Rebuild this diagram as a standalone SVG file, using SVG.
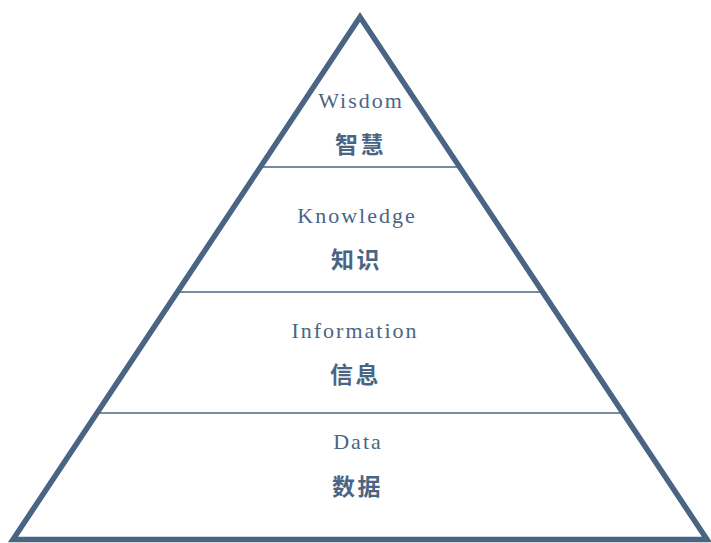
<svg xmlns="http://www.w3.org/2000/svg" width="711" height="543" viewBox="0 0 711 543">
<style>
.en{font-family:"Liberation Serif","Times New Roman",serif;font-size:22px;fill:#4a6584;letter-spacing:2px;text-anchor:middle}
.zh{font-family:"Noto Sans CJK SC","Noto Sans",sans-serif;font-size:23px;font-weight:bold;fill:#4a6584;letter-spacing:2.5px;text-anchor:middle}
.div{stroke:#4a6584;stroke-width:1.5}
</style>
<rect width="711" height="543" fill="#fff"/>
<g id="connectors">
<line class="div" x1="260" y1="167" x2="460" y2="167"/>
<line class="div" x1="177" y1="292" x2="543" y2="292"/>
<line class="div" x1="97" y1="413" x2="623" y2="413"/>
</g>
<g id="pyramid">
<polygon points="360,17 707,539.5 13,539.5" fill="none" stroke="#4a6584" stroke-width="5.5" stroke-linejoin="miter"/>
</g>
<g id="wisdom"><text class="en" x="361" y="108">Wisdom</text><text class="zh" x="360.5" y="153">智慧</text></g>
<g id="knowledge"><text class="en" x="357" y="223">Knowledge</text><text class="zh" x="356.5" y="268">知识</text></g>
<g id="information"><text class="en" x="355" y="338">Information</text><text class="zh" x="355.5" y="383">信息</text></g>
<g id="data"><text class="en" x="358" y="449">Data</text><text class="zh" x="357.5" y="495">数据</text></g>
</svg>
